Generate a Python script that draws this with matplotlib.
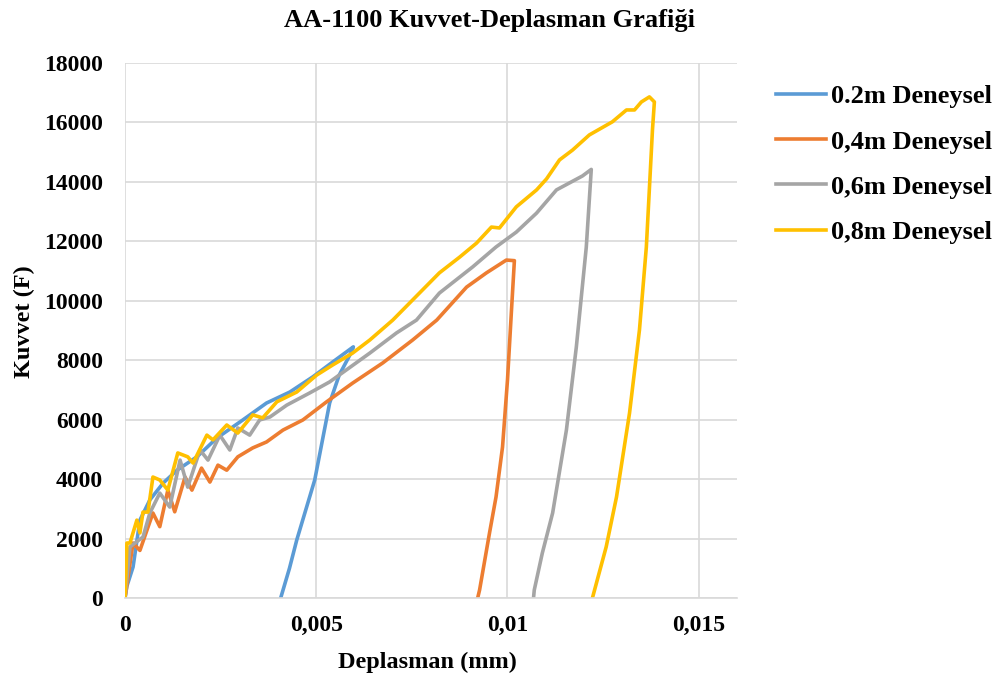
import matplotlib.pyplot as plt

plt.rcParams["font.family"] = ["Liberation Serif", "DejaVu Serif"]
plt.rcParams["font.weight"] = "bold"

x_02 = [0, 0.00005, 0.00021, 0.00039, 0.00065, 0.001, 0.00136, 0.00188, 0.0024, 0.00308,
        0.0037, 0.00431, 0.00491, 0.00543, 0.00597,
        0.00593, 0.0056, 0.00535, 0.00496, 0.00449, 0.0043, 0.00407]
y_02 = [0, 400, 1040, 2620, 3300, 3870, 4300, 4750, 5380, 5990,
        6560, 6930, 7440, 7940, 8450,
        8300, 7500, 6560, 3970, 1950, 1000, 0]

x_04 = [0, 0.00021, 0.00039, 0.00073, 0.00091, 0.00112, 0.0013, 0.00157, 0.00175, 0.002,
        0.00222, 0.00243, 0.00266, 0.00295, 0.00334, 0.0037, 0.00413, 0.00465, 0.00527,
        0.00595, 0.00674, 0.00752, 0.00815, 0.00893, 0.00945, 0.00997, 0.01018,
        0.0101, 0.01, 0.00987, 0.0097, 0.00953, 0.00927, 0.00922]
y_04 = [0, 1850, 1600, 2860, 2400, 3630, 2900, 4070, 3630, 4370,
        3900, 4470, 4300, 4750, 5050, 5250, 5650, 5990, 6600,
        7230, 7910, 8680, 9350, 10460, 10940, 11370, 11350,
        9590, 7340, 5080, 3400, 2190, 270, 0]

x_06 = [0, 0.00013, 0.00026, 0.00047, 0.00065, 0.00091, 0.00117, 0.00144, 0.00164, 0.00196,
        0.00217, 0.00248, 0.00274, 0.00295, 0.00326, 0.00352, 0.00379, 0.00423, 0.00483,
        0.00535, 0.0064, 0.0071, 0.00762, 0.00822, 0.00909, 0.0097, 0.01023, 0.01076,
        0.01128, 0.01196, 0.01219,
        0.01206, 0.0118, 0.01154, 0.01118, 0.01091, 0.0107, 0.01068]
y_06 = [0, 1720, 1850, 2050, 2860, 3530, 3060, 4640, 3730, 4980,
        4640, 5480, 4980, 5720, 5480, 5990, 6090, 6490, 6900,
        7270, 8240, 8920, 9350, 10260, 11140, 11810, 12310, 12950,
        13730, 14200, 14420,
        11810, 8450, 5650, 2860, 1510, 270, 0]

x_08 = [0, 0.00005, 0.00013, 0.00031, 0.00039, 0.00047, 0.0006, 0.00073, 0.00091, 0.00112,
        0.00138, 0.00164, 0.00178, 0.00214, 0.0023, 0.00266, 0.00295, 0.00334, 0.0036,
        0.00397, 0.00449, 0.00501, 0.00543, 0.00595, 0.0064, 0.007, 0.00822, 0.00875,
        0.00919, 0.00958, 0.00979, 0.01023, 0.01076, 0.01102, 0.01136, 0.0117, 0.01214,
        0.01274, 0.01311, 0.01332, 0.0135, 0.01371, 0.01384,
        0.01379, 0.01363, 0.01345, 0.01319, 0.01285, 0.01258, 0.01222]
y_08 = [0, 1850, 1850, 2620, 2190, 2890, 2890, 4070, 3970, 3630,
        4880, 4750, 4540, 5480, 5320, 5820, 5550, 6160, 6060,
        6600, 6930, 7500, 7840, 8240, 8680, 9350, 10940, 11470,
        11940, 12480, 12450, 13160, 13730, 14100, 14740, 15070, 15580,
        16020, 16420, 16420, 16690, 16860, 16690,
        15750, 11810, 9020, 6220, 3400, 1720, 0]

labels = ["0.2m Deneysel", "0,4m Deneysel", "0,6m Deneysel", "0,8m Deneysel"]
colors = ["#5B9BD5", "#ED7D31", "#A5A5A5", "#FFC000"]
x_ticks = [0, 0.005, 0.01, 0.015]
x_tick_labels = ["0", "0,005", "0,01", "0,015"]
y_ticks = list(range(0, 18001, 2000))

W, H = 1004, 681
fig = plt.figure(figsize=(W / 100, H / 100), dpi=100)
ax = fig.add_axes([125 / W, 1 - 598 / H, (737 - 125) / W, (598 - 63) / H])

for xs, ys, lab, col in zip([x_02, x_04, x_06, x_08], [y_02, y_04, y_06, y_08], labels, colors):
    ax.plot(xs, ys, color=col, lw=2.6, label=lab, solid_joinstyle="round")

ax.set_xlim(0, 0.016)
ax.set_ylim(0, 18000)
ax.set_xticks(x_ticks)
ax.set_xticklabels(x_tick_labels)
ax.set_yticks(y_ticks)
ax.grid(True, color="#D9D9D9", lw=1.2)
ax.set_axisbelow(True)
for side in ["top", "right", "left"]:
    ax.spines[side].set_visible(False)
ax.spines["bottom"].set_color("#D9D9D9")
ax.spines["bottom"].set_linewidth(1.2)
ax.tick_params(length=0, labelsize=17)
ax.tick_params(axis="y", pad=16)
ax.tick_params(axis="x", pad=12)
for t in ax.get_xticklabels() + ax.get_yticklabels():
    t.set_fontweight("bold")

fig.text(427 / W, 1 - 662 / H, "Deplasman (mm)", ha="center", va="center",
         fontsize=17.5, fontweight="bold")
fig.text(24 / W, 1 - 322 / H, "Kuvvet (F)", ha="center", va="center", rotation=90,
         fontsize=17.5, fontweight="bold")
fig.text(490 / W, 1 - 20 / H, "AA-1100 Kuvvet-Deplasman Grafiği", ha="center", va="center",
         fontsize=19, fontweight="bold")

ax.legend(loc="upper left", bbox_to_anchor=(776 / W, 1 - 85 / H),
          bbox_transform=fig.transFigure, frameon=False, borderpad=0, borderaxespad=0,
          handlelength=1.9, labelspacing=0.82, handletextpad=0.2,
          prop={"weight": "bold", "size": 19})

fig.savefig("out.png", dpi=100)
